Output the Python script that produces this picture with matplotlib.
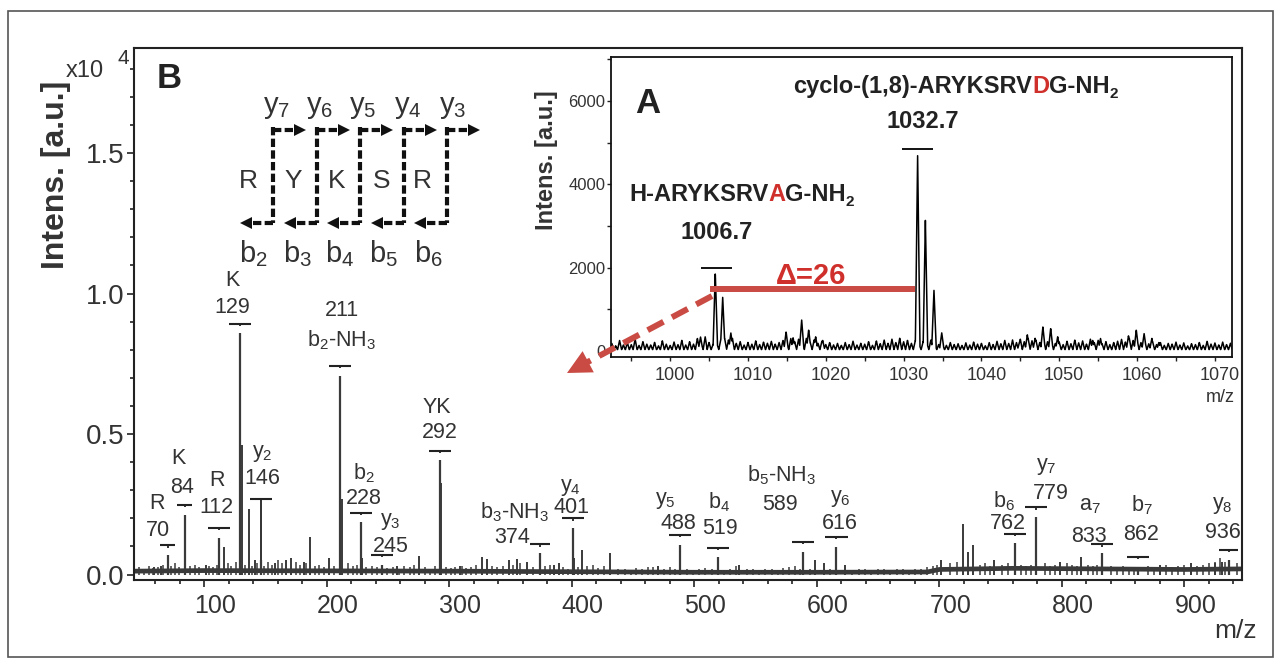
import numpy as np
import matplotlib
matplotlib.use("Agg")
import matplotlib.pyplot as plt
from matplotlib.ticker import FixedLocator, MultipleLocator
from matplotlib.transforms import ScaledTranslation
from matplotlib.patches import Rectangle, Polygon
from matplotlib.lines import Line2D

plt.rcParams['font.family'] = ['Liberation Sans', 'DejaVu Sans']
plt.rcParams['mathtext.fontset'] = 'custom'
plt.rcParams['mathtext.rm'] = 'Liberation Sans'
plt.rcParams['mathtext.it'] = 'Liberation Sans'
plt.rcParams['mathtext.bf'] = 'Liberation Sans:bold'
plt.rcParams['mathtext.default'] = 'regular'

W, H = 1282, 665

# ---------------- B: MS/MS spectrum, intensity in 1e4 a.u. ----------------
ion_names = ['R', 'K', 'R', 'K', 'y$_2$', 'b$_2$-NH$_3$', 'b$_2$', 'y$_3$', 'YK',
             'b$_3$-NH$_3$', 'y$_4$', 'y$_5$', 'b$_4$', 'b$_5$-NH$_3$', 'y$_6$',
             'b$_6$', 'y$_7$', 'a$_7$', 'b$_7$', 'y$_8$']
ion_mz = [70, 84, 112, 129, 146, 211, 228, 245, 292, 374, 401, 488, 519, 589,
          616, 762, 779, 833, 862, 936]
ion_int = [0.069, 0.212, 0.130, 0.860, 0.050, 0.706, 0.187, 0.034, 0.407, 0.076,
           0.165, 0.105, 0.062, 0.081, 0.099, 0.112, 0.206, 0.076, 0.028, 0.052]

other_mz = [59, 65, 101, 116, 130.5, 136.5, 141, 158, 167, 171, 181, 186, 202,
            212.5, 229, 257, 275, 293.5, 309, 326.5, 330.6, 349, 355, 363.5,
            385.5, 389.7, 402, 408, 431.5, 470, 536.6, 598.6, 606, 622.7,
            701.6, 719.5, 723.6, 727.4, 744.5, 798.5, 815.9, 880, 905, 925, 931]
other_int = [0.025, 0.03, 0.034, 0.098, 0.46, 0.233, 0.05, 0.04, 0.05, 0.06,
             0.045, 0.134, 0.06, 0.27, 0.06, 0.03, 0.065, 0.325, 0.03, 0.062,
             0.055, 0.05, 0.055, 0.045, 0.035, 0.04, 0.06, 0.087, 0.078, 0.03,
             0.034, 0.05, 0.04, 0.035, 0.052, 0.18, 0.081, 0.105, 0.052, 0.045,
             0.063, 0.035, 0.04, 0.04, 0.045]

grass_mz = [47, 51, 55, 58, 62, 66, 73, 76, 79, 88,
            92, 96, 104, 107, 110, 119, 122, 126, 133, 139,
            143, 149, 152, 155, 160, 163, 175, 178, 183, 190,
            194, 198, 206, 217, 221, 225, 232, 237, 241, 249,
            254, 259, 263, 268, 271, 280, 284, 288, 297, 301,
            305, 310, 314, 318, 322, 335, 339, 344, 352, 358,
            368, 378, 382, 393, 397, 405, 412, 417, 421, 426,
            438, 443, 448, 452, 457, 462, 466, 475, 480, 484,
            494, 499, 504, 509, 514, 524, 529, 534, 543, 548,
            553, 558, 563, 568, 572, 577, 582, 586, 594, 611,
            629, 634, 639, 644, 650, 655, 660, 665, 670, 675,
            680, 685, 690, 695, 698, 709, 714, 733, 737, 741,
            751, 756, 767, 771, 775, 786, 790, 794, 804, 808,
            812, 821, 825, 829, 840, 845, 850, 855, 859, 870,
            875, 880, 885, 890, 895, 900, 905, 910, 915, 920,
            925, 929, 933, 943]
grass_int = [0.025, 0.02, 0.03, 0.022, 0.028, 0.035, 0.03, 0.04, 0.025, 0.03,
             0.035, 0.025, 0.03, 0.028, 0.035, 0.04, 0.03, 0.045, 0.035, 0.03,
             0.04, 0.03, 0.045, 0.035, 0.05, 0.04, 0.045, 0.035, 0.04, 0.03,
             0.035, 0.028, 0.03, 0.04, 0.03, 0.035, 0.025, 0.03, 0.028, 0.022,
             0.025, 0.02, 0.03, 0.025, 0.035, 0.028, 0.02, 0.03, 0.025, 0.022,
             0.025, 0.03, 0.022, 0.028, 0.035, 0.03, 0.025, 0.03, 0.035, 0.04,
             0.025, 0.03, 0.035, 0.028, 0.02, 0.025, 0.03, 0.035, 0.022, 0.03,
             0.018, 0.02, 0.015, 0.022, 0.018, 0.025, 0.028, 0.02, 0.025, 0.018,
             0.02, 0.015, 0.018, 0.022, 0.02, 0.015, 0.018, 0.03, 0.02, 0.018,
             0.015, 0.02, 0.018, 0.015, 0.022, 0.025, 0.03, 0.02, 0.018, 0.02,
             0.015, 0.02, 0.018, 0.015, 0.02, 0.018, 0.015, 0.02, 0.018, 0.015,
             0.018, 0.02, 0.025, 0.03, 0.035, 0.04, 0.045, 0.035, 0.04, 0.03,
             0.035, 0.04, 0.035, 0.03, 0.035, 0.04, 0.03, 0.035, 0.04, 0.035,
             0.03, 0.035, 0.03, 0.035, 0.03, 0.025, 0.03, 0.028, 0.025, 0.03,
             0.025, 0.03, 0.035, 0.025, 0.03, 0.035, 0.028, 0.03, 0.035, 0.04,
             0.045, 0.06, 0.045, 0.04]

base_mz = [43, 100, 200, 300, 400, 500, 600, 690, 700, 760, 830, 900, 947]
base_int = [0.012, 0.014, 0.013, 0.012, 0.010, 0.008, 0.008, 0.009, 0.018,
            0.022, 0.020, 0.018, 0.020]

# label layout (data coords): marker bar height, ion-name and m/z text centres
bar_y = [0.104, 0.247, 0.165, 0.891, 0.269, 0.742, 0.220, 0.069, 0.440, 0.107,
         0.200, 0.140, 0.095, 0.115, 0.135, 0.144, 0.239, 0.107, 0.063, 0.087]
bar_half = [6, 6, 9, 9, 9, 9, 9, 9, 9, 8, 9, 9, 9, 9, 9, 9, 9, 9, 9, 8]
name_xy = [(61, 0.254), (79, 0.414), (110, 0.336), (123, 1.048), (147, 0.429),
           (212, 0.834), (230, 0.361), (252, 0.187), (290, 0.596), (353, 0.222),
           (399, 0.311), (476, 0.265), (520, 0.258), (571, 0.354), (619, 0.272),
           (753, 0.262), (787, 0.383), (823, 0.247), (865, 0.247), (931, 0.247)]
num_xy = [(62, 0.158), (82, 0.311), (110, 0.237), (123, 0.952), (147, 0.343),
          (212, 0.941), (230, 0.272), (252, 0.101), (292, 0.504), (351, 0.130),
          (400, 0.237), (487, 0.180), (521, 0.165), (570, 0.251), (619, 0.180),
          (756, 0.180), (791, 0.290), (822, 0.137), (865, 0.141), (931, 0.151)]

# ---------------- A: MS spectrum of the two peptides ----------------
ms_mz = [1003.9, 1005.8, 1006.75, 1007.8, 1014.9, 1015.8, 1016.9, 1017.8, 1018.7,
         1019.6, 1031.8, 1032.8, 1033.9, 1034.9, 1044.9, 1045.9, 1046.9, 1047.9,
         1048.9, 1049.8, 1054.3, 1055.3, 1058.9, 1059.9, 1060.9, 1061.9, 1062.8]
ms_int = [336, 1873, 1296, 432, 456, 312, 744, 504, 336, 250, 4706, 3145, 1465,
          430, 216, 384, 300, 576, 540, 336, 250, 300, 360, 500, 420, 300, 200]
noise_start, noise_step = 992.5, 0.5
noise_int = [180, 120, 250, 140, 200, 150, 280, 130, 220, 160,
             140, 200, 120, 240, 160, 130, 210, 150, 250, 140,
             220, 160, 300, 180, 340, 200, 150, 180, 260, 300,
             260, 300, 180, 220, 140, 200, 160, 240, 150, 210,
             180, 230, 160, 200, 250, 170, 300, 220, 280, 240,
             300, 200, 260, 180, 230, 150, 200, 140, 180, 130,
             200, 150, 230, 140, 180, 160, 220, 130, 240, 170,
             260, 180, 280, 200, 300, 220, 250, 180, 240, 160,
             220, 180, 260, 200, 150, 180, 130, 200, 150, 170,
             130, 190, 140, 210, 160, 180, 120, 200, 150, 230,
             170, 250, 180, 260, 200, 280, 220, 300, 240, 260,
             200, 280, 220, 250, 180, 210, 150, 230, 170, 260,
             190, 240, 160, 280, 200, 250, 170, 220, 150, 200,
             230, 280, 210, 300, 250, 280, 200, 240, 170, 220,
             150, 200, 130, 180, 160, 210, 140, 190, 120, 170,
             150, 200, 130, 230, 160, 190, 140, 210, 150, 180]
ms_bars = [(1006.0, 1990, 2.0), (1031.8, 4850, 2.0)]   # (m/z, height, half width)

RED_LINE = '#c94b44'
RED_TXT = '#d0302b'
GREY = '#333333'


def fx(x):
    return x / W


def fy(y):
    return 1 - y / H


fig = plt.figure(figsize=(W / 100, H / 100), dpi=100)
fig.patches.append(Rectangle((fx(8), fy(657)), fx(1273) - fx(8), fy(11) - fy(657),
                             transform=fig.transFigure, fill=False,
                             ec='#555555', lw=1.2))

# ---------------- main axes ----------------
ax = fig.add_axes([fx(134), fy(580), (1242 - 134) / W, (580 - 48) / H])
ax.set_xlim(42.6, 947)
ax.set_ylim(-0.0195, 1.874)

ax.plot(base_mz, base_int, color='#3a3a3a', lw=3.4, zorder=2)
ax.vlines(grass_mz, 0, grass_int, color='#3a3a3a', lw=1.1, zorder=2)
ax.vlines(other_mz, 0, other_int, color='#3a3a3a', lw=1.4, zorder=2)
ax.vlines(ion_mz, 0, ion_int, color='#3a3a3a', lw=1.6, zorder=2)

for i, mz in enumerate(ion_mz):
    ax.hlines(bar_y[i], mz - bar_half[i], mz + bar_half[i], color='#222222', lw=1.5)
    stem_end = ion_int[i] if mz == 146 else bar_y[i] - 0.008
    ax.vlines(mz, stem_end, bar_y[i], color='#222222', lw=1.3)
    ax.text(*name_xy[i], ion_names[i], ha='center', va='center', fontsize=15.5, color=GREY)
    ax.text(*num_xy[i], str(mz), ha='center', va='center', fontsize=15.5, color=GREY)

ax.xaxis.set_major_locator(FixedLocator([100, 200, 300, 400, 500, 600, 700, 800, 900]))
ax.xaxis.set_minor_locator(MultipleLocator(20))
ax.yaxis.set_major_locator(FixedLocator([0, 0.5, 1.0, 1.5]))
ax.yaxis.set_minor_locator(MultipleLocator(0.1))
ax.set_yticklabels(['0.0', '0.5', '1.0', '1.5'])
ax.tick_params(axis='both', which='both', direction='out', width=1.2, color='#222222')
ax.tick_params(axis='both', which='major', length=5)
ax.tick_params(axis='both', which='minor', length=3)
ax.tick_params(axis='x', labelsize=18, pad=5, labelcolor=GREY)
ax.tick_params(axis='y', labelsize=20, pad=2, labelcolor=GREY)
shift = ScaledTranslation(0.11, 0, fig.dpi_scale_trans)
for lbl in ax.get_xticklabels():
    lbl.set_transform(lbl.get_transform() + shift)
for sp in ax.spines.values():
    sp.set_linewidth(1.5)
    sp.set_color('#222222')

fig.text(fx(56), fy(175), 'Intens. [a.u.]', rotation=90, ha='center', va='center',
         fontsize=23, weight='bold', color=GREY)
fig.text(fx(66), fy(77), 'x10', ha='left', va='baseline', fontsize=17, color=GREY)
fig.text(fx(117), fy(64), '4', ha='left', va='baseline', fontsize=15, color=GREY)
fig.text(fx(1257), fy(638), 'm/z', ha='right', va='baseline', fontsize=19, color=GREY)
fig.text(fx(157), fy(88), 'B', ha='left', va='baseline', fontsize=25, weight='bold',
         color='#222222')

# ---------------- fragmentation scheme ----------------
scheme_x = [273, 317, 360, 404, 447]
top_y, bot_y = 127, 223


def head(tip, direction, length=12, half=6, color='#111111'):
    d = np.array(direction, float)
    d = d / np.hypot(*d)
    p = np.array([-d[1], d[0]])
    t = np.array(tip, float)
    b = t - d * length
    pts = [t, b + p * half, b - p * half]
    fig.patches.append(Polygon([(fx(x), fy(y)) for x, y in pts], closed=True,
                               transform=fig.transFigure, color=color, lw=0))


for x in scheme_x:
    fig.add_artist(Line2D([fx(x), fx(x)], [fy(top_y), fy(bot_y)], color='#111111',
                          lw=3, dashes=(2.0, 0.8)))
    fig.add_artist(Line2D([fx(x), fx(x + 22)], [fy(130), fy(130)], color='#111111',
                          lw=3, dashes=(2.0, 0.8)))
    head((x + 33, 130), (1, 0))
    fig.add_artist(Line2D([fx(x), fx(x - 22)], [fy(bot_y), fy(bot_y)], color='#111111',
                          lw=3, dashes=(2.0, 0.8)))
    head((x - 33, bot_y), (-1, 0))

for s, x in zip(['y$_7$', 'y$_6$', 'y$_5$', 'y$_4$', 'y$_3$'], [277, 320, 363, 408, 453]):
    fig.text(fx(x), fy(113), s, ha='center', va='baseline', fontsize=21, color=GREY)
for s, x in zip(['R', 'Y', 'K', 'S', 'R'], [248, 293, 337, 382, 422]):
    fig.text(fx(x), fy(188), s, ha='center', va='baseline', fontsize=19, color=GREY)
for s, x in zip(['b$_2$', 'b$_3$', 'b$_4$', 'b$_5$', 'b$_6$'], [253, 297, 340, 383, 428]):
    fig.text(fx(x), fy(262), s, ha='center', va='baseline', fontsize=21, color=GREY)

# ---------------- inset A ----------------
axi = fig.add_axes([fx(611), fy(357), (1232 - 611) / W, (357 - 57) / H], zorder=3)
axi.set_facecolor('white')
axi.set_xlim(992.4, 1072.2)
axi.set_ylim(-150, 7060)

grid = np.linspace(992.4, 1072.2, 6000)
prof = np.full_like(grid, 30.0)
for i, h in enumerate(noise_int):
    m = noise_start + noise_step * i
    prof = np.maximum(prof, h * np.clip(1 - np.abs(grid - m) / 0.28, 0, None))
for m, h in zip(ms_mz, ms_int):
    prof = np.maximum(prof, h * np.clip(1 - np.abs(grid - m) / 0.3, 0, None))
axi.plot(grid, prof, color='black', lw=1.1)
for m, h, hw in ms_bars:
    axi.hlines(h, m - hw, m + hw, color='black', lw=1.3)

axi.xaxis.set_major_locator(MultipleLocator(10))
axi.xaxis.set_minor_locator(MultipleLocator(5))
axi.yaxis.set_major_locator(FixedLocator([0, 2000, 4000, 6000]))
axi.yaxis.set_minor_locator(MultipleLocator(1000))
axi.tick_params(axis='both', which='both', direction='out', width=1, length=3,
                color='#222222')
axi.tick_params(axis='x', labelsize=13, pad=4, labelcolor=GREY)
axi.tick_params(axis='y', labelsize=12, pad=1, labelcolor=GREY)
shift_i = ScaledTranslation(0.05, 0, fig.dpi_scale_trans)
for lbl in axi.get_xticklabels():
    lbl.set_transform(lbl.get_transform() + shift_i)
for sp in axi.spines.values():
    sp.set_linewidth(1.3)
    sp.set_color('#111111')

fig.text(fx(546), fy(160), 'Intens. [a.u.]', rotation=90, ha='center', va='center',
         fontsize=17, weight='bold', color=GREY, zorder=4)
fig.text(fx(1235), fy(402), 'm/z', ha='right', va='baseline', fontsize=13,
         color=GREY, zorder=4)
fig.text(fx(635), fy(113), 'A', ha='left', va='baseline', fontsize=25, weight='bold',
         color='#222222', zorder=4)

renderer = fig.canvas.get_renderer()


def seq_text(x, y, parts, size):
    for s, color, rel, dy in parts:
        t = fig.text(fx(x), fy(y + dy), s, fontsize=size * rel, color=color,
                     weight='bold', ha='left', va='baseline', zorder=4)
        x = t.get_window_extent(renderer).x1


seq_text(793, 93, [('cyclo-(1,8)-ARYKSRV', '#222222', 1, 0), ('D', RED_TXT, 1, 0),
                   ('G-NH', '#222222', 1, 0), ('2', '#222222', 0.65, 5)], 17)
seq_text(629, 201, [('H-ARYKSRV', '#222222', 1, 0), ('A', RED_TXT, 1, 0),
                    ('G-NH', '#222222', 1, 0), ('2', '#222222', 0.65, 5)], 17)
fig.text(fx(923), fy(128), '1032.7', ha='center', va='baseline', fontsize=17,
         weight='bold', color='#222222', zorder=4)
fig.text(fx(717), fy(239), '1006.7', ha='center', va='baseline', fontsize=17,
         weight='bold', color='#222222', zorder=4)
fig.text(fx(811), fy(284), '\u0394=26', ha='center', va='baseline', fontsize=21,
         weight='bold', color=RED_TXT, zorder=4)

# red difference bar and dashed arrow
fig.add_artist(Line2D([fx(713), fx(912)], [fy(289), fy(289)], color=RED_LINE, lw=4.3,
                      zorder=5))
start, tip = np.array([712.0, 296.0]), np.array([567.0, 373.0])
d = (tip - start) / np.hypot(*(tip - start))
end = tip - d * 20
fig.add_artist(Line2D([fx(start[0]), fx(end[0])], [fy(start[1]), fy(end[1])],
                      color=RED_LINE, lw=4.3, dashes=(3.0, 1.6), zorder=5))
head(tip, d, length=24, half=12, color=RED_LINE)

fig.savefig('out.png', dpi=100)
